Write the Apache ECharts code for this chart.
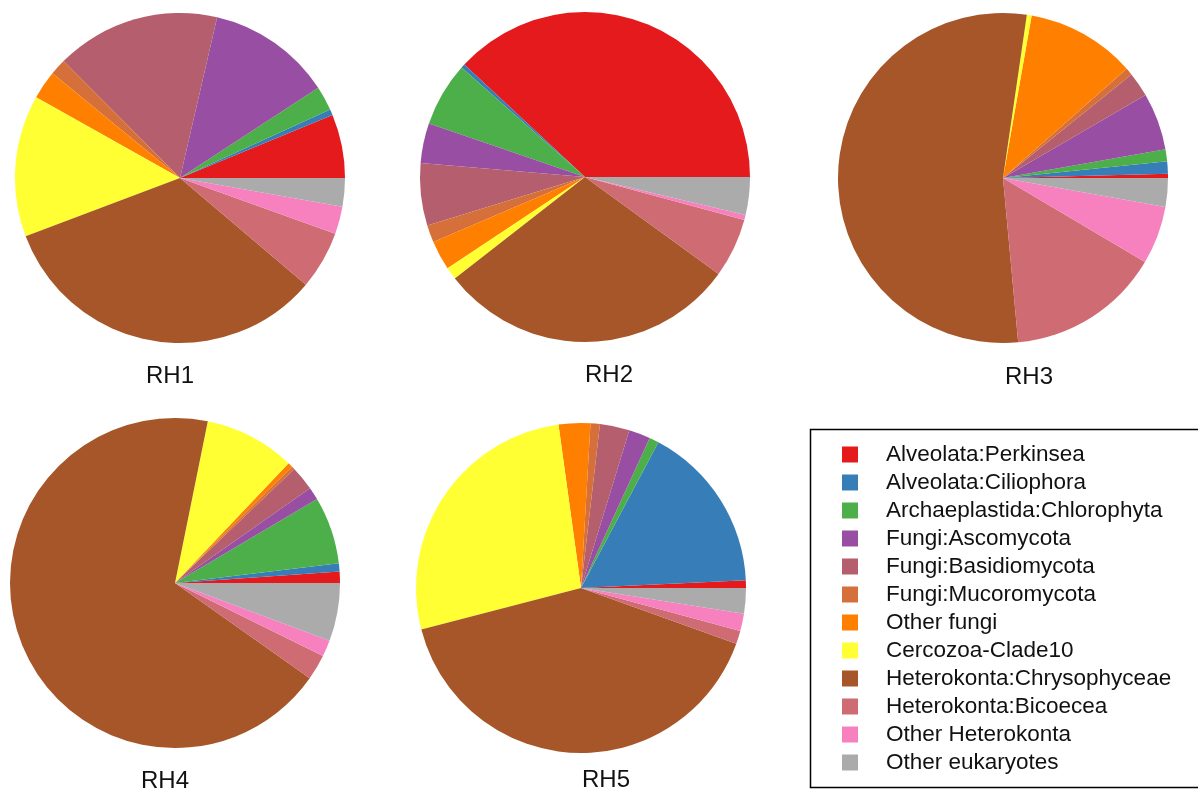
<!DOCTYPE html>
<html>
<head>
<meta charset="utf-8">
<script src="https://cdn.jsdelivr.net/npm/echarts@6/dist/echarts.min.js"></script>
<style>
html,body{margin:0;padding:0;background:#fff;}
#chart{width:1198px;height:789px;}
</style>
</head>
<body>
<div id="chart"></div>
<script>
const categories = [
  'Alveolata:Perkinsea',
  'Alveolata:Ciliophora',
  'Archaeplastida:Chlorophyta',
  'Fungi:Ascomycota',
  'Fungi:Basidiomycota',
  'Fungi:Mucoromycota',
  'Other fungi',
  'Cercozoa-Clade10',
  'Heterokonta:Chrysophyceae',
  'Heterokonta:Bicoecea',
  'Other Heterokonta',
  'Other eukaryotes'
];
const colors = ['#E41A1C','#377EB8','#4DAF4A','#984EA3','#B55E6D','#D6703A','#FF7F00','#FFFF33','#A65628','#CF6B73','#F781BF','#ABABAB'];

const sampleNames = ['RH1','RH2','RH3','RH4','RH5'];
const RH1 = [6.25, 0.56, 2.4, 12.2, 16.1, 1.6, 2.8, 13.9, 33.1, 5.7, 2.7, 2.8];
const RH2 = [38.1, 0.39, 6.3, 3.9, 6.1, 1.7, 2.9, 1.2, 29.5, 5.8, 0.5, 3.7];
const RH3 = [0.42, 1.2, 1.17, 5.6, 2.4, 0.7, 10.7, 0.47, 53.7, 15.0, 5.7, 2.8];
const RH4 = [1.1, 0.8, 6.6, 1.25, 2.4, 0.3, 0.47, 8.9, 68.4, 2.5, 1.6, 5.7];
const RH5 = [0.75, 16.5, 0.94, 2.1, 2.9, 0.92, 3.1, 26.9, 40.5, 1.3, 1.7, 2.5];
const samples = [RH1, RH2, RH3, RH4, RH5];

const layout = [
  {center:[180,178], label:[170,376]},
  {center:[585,177], label:[609,375]},
  {center:[1003,178], label:[1029,377]},
  {center:[175,583], label:[165,781]},
  {center:[581,588], label:[606,780]}
];
const R = 165;
const FONT = '"Liberation Sans", Arial, sans-serif';

const series = samples.map((vals, si) => ({
  type: 'pie',
  name: sampleNames[si],
  center: layout[si].center,
  radius: [0, R],
  startAngle: 0,
  clockwise: false,
  avoidLabelOverlap: false,
  label: {show: false},
  labelLine: {show: false},
  emphasis: {disabled: true},
  itemStyle: {borderWidth: 0},
  data: categories.map((c, i) => ({name: c, value: vals[i], itemStyle: {color: colors[i]}}))
}));

const graphics = sampleNames.map((n, si) => ({
  type: 'text',
  x: layout[si].label[0],
  y: layout[si].label[1],
  style: {text: n, font: '24px ' + FONT, fill: '#111', textAlign: 'center', textVerticalAlign: 'middle'}
}));
graphics.push({
  type: 'rect',
  shape: {x: 810.5, y: 429.5, width: 392, height: 358},
  style: {fill: 'none', stroke: '#000', lineWidth: 1.5}
});

const chart = echarts.init(document.getElementById('chart'), null, {renderer: 'canvas'});
chart.setOption({
  backgroundColor: '#fff',
  animation: false,
  legend: {
    data: categories,
    orient: 'vertical',
    left: 842,
    top: 443,
    height: 345,
    padding: 0,
    itemWidth: 16,
    itemHeight: 16,
    itemGap: 5,
    icon: 'rect',
    selectedMode: false,
    textStyle: {fontSize: 22.5, fontFamily: FONT, color: '#111', padding: [0, 0, 0, 23]}
  },
  graphic: graphics,
  series: series
});
</script>
</body>
</html>
